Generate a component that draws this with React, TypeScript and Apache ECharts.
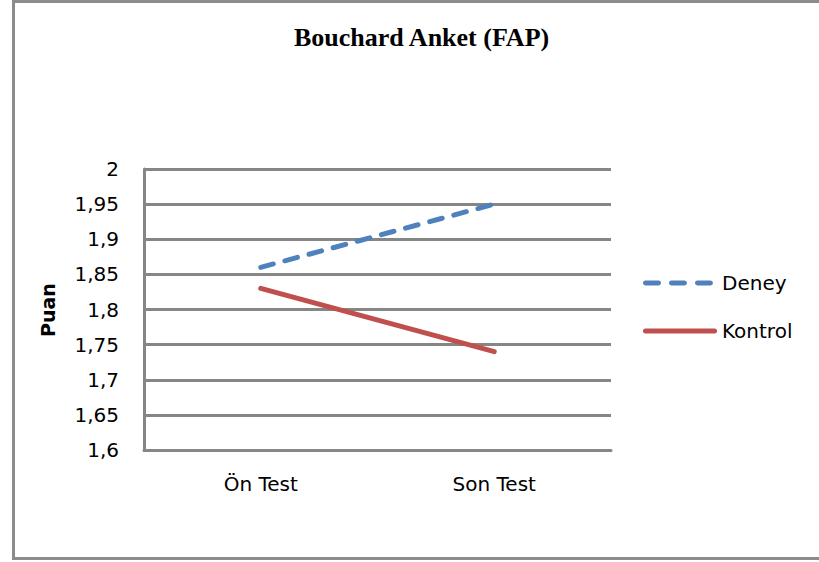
import React, { useEffect, useRef } from "react";
import * as echarts from "echarts";

const categories = ["Ön Test", "Son Test"];
const deneyValues = [1.86, 1.95];
const kontrolValues = [1.83, 1.74];
const yMin = 1.6;
const yMax = 2;
const yInterval = 0.05;
const titleText = "Bouchard Anket (FAP)";
const yAxisName = "Puan";
const seriesNames = ["Deney", "Kontrol"];

const fmt = (v: number) => String(parseFloat(v.toFixed(2))).replace(".", ",");

const cap = (x: number, w: number) =>
  `M${x + 2.5},0h${w - 5}a2.5,2.5 0 0 1 0,5h-${w - 5}a2.5,2.5 0 0 1 0,-5z`;
const deneyIcon = "path://" + cap(0, 18) + cap(26, 18) + cap(52, 18) + "M74,0h0.01v5h-0.01z";
const kontrolIcon = "path://" + cap(0, 74);

export default function App() {
  const ref = useRef<HTMLDivElement>(null);
  useEffect(() => {
    document.body.style.margin = "0";
    const chart = echarts.init(ref.current!, null, { renderer: "svg" });
    const gray = "#868686";
    const font = "DejaVu Sans";
    chart.setOption({
      animation: false,
      backgroundColor: "#ffffff",
      title: {
        text: titleText,
        left: 294,
        top: 24,
        padding: 0,
        textStyle: {
          fontFamily: "Liberation Serif",
          fontWeight: "bold",
          fontSize: 26,
          color: "#000",
        },
      },
      graphic: [
        {
          type: "rect",
          shape: { x: 13.5, y: 1.5, width: 900, height: 557 },
          style: { fill: "none", stroke: "#8c8c8c", lineWidth: 3 },
          silent: true,
        },
        {
          type: "text",
          x: 48,
          y: 310,
          rotation: Math.PI / 2,
          style: {
            text: yAxisName,
            fontFamily: font,
            fontWeight: "bold",
            fontSize: 19,
            fill: "#000",
            align: "center",
            verticalAlign: "middle",
          },
        },
      ],
      legend: {
        orient: "vertical",
        left: 643,
        top: 271,
        padding: 0,
        itemWidth: 74,
        itemHeight: 5,
        itemGap: 24,
        textStyle: { fontFamily: font, fontSize: 20, color: "#000", lineHeight: 24 },
        data: [
          { name: seriesNames[0], icon: deneyIcon },
          { name: seriesNames[1], icon: kontrolIcon },
        ],
      },
      grid: { left: 144, top: 169, right: 208, bottom: 112, containLabel: false },
      xAxis: {
        type: "category",
        data: categories,
        boundaryGap: true,
        axisLine: { show: true, lineStyle: { color: gray, width: 3 } },
        axisTick: { show: false },
        axisLabel: { fontFamily: font, fontSize: 20, color: "#000", margin: 24 },
      },
      yAxis: {
        type: "value",
        min: yMin,
        max: yMax,
        interval: yInterval,
        axisLine: { show: true, lineStyle: { color: gray, width: 3 } },
        axisTick: { show: false },
        splitLine: { show: true, lineStyle: { color: gray, width: 3 } },
        axisLabel: {
          fontFamily: font,
          fontSize: 20,
          color: "#000",
          margin: 25,
          formatter: (v: number) => fmt(v),
        },
      },
      series: [
        {
          name: seriesNames[0],
          type: "line",
          data: deneyValues,
          symbol: "none",
          color: "#4F81BD",
          lineStyle: { width: 5, color: "#4F81BD", type: [13, 12], cap: "round" },
        },
        {
          name: seriesNames[1],
          type: "line",
          data: kontrolValues,
          symbol: "none",
          color: "#C0504D",
          lineStyle: { width: 5, color: "#C0504D", type: "solid", cap: "round" },
        },
      ],
    });
    return () => chart.dispose();
  }, []);
  return <div ref={ref} style={{ width: 819, height: 562 }} />;
}
